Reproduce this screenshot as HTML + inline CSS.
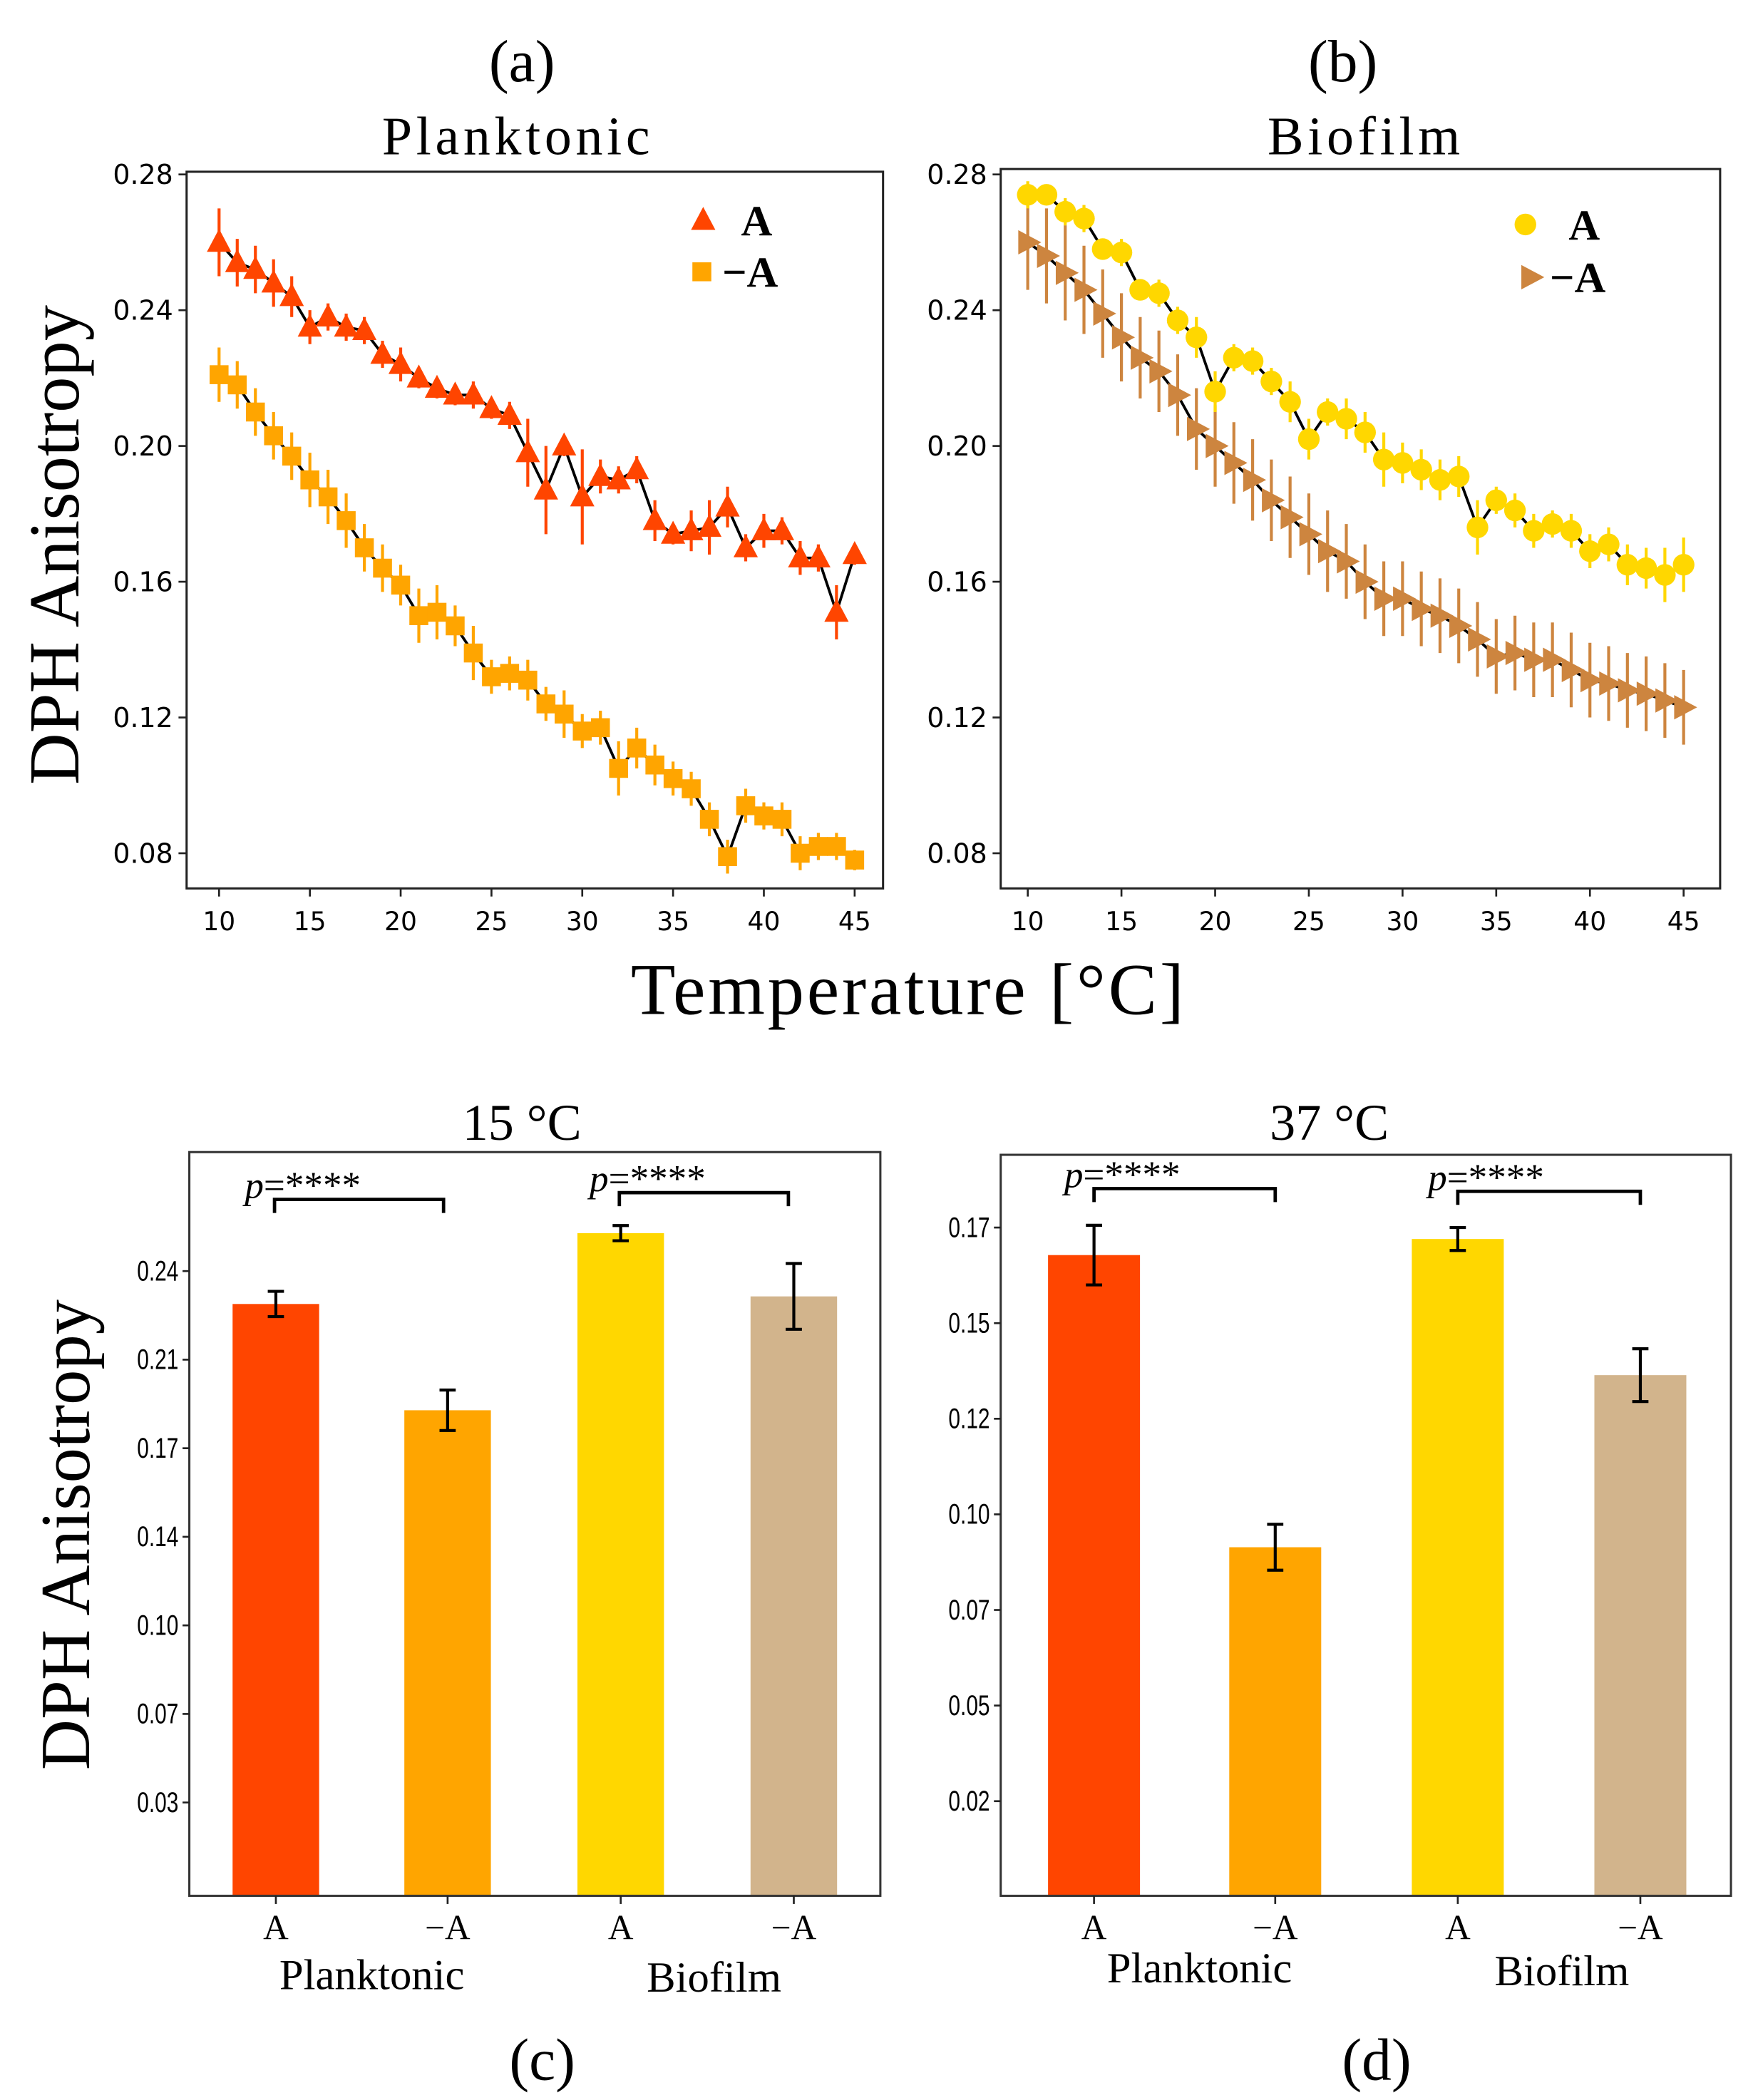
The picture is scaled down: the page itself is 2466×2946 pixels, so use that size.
<!DOCTYPE html>
<html><head><meta charset="utf-8"><style>
html,body{margin:0;padding:0;background:#fff;}
svg{display:block;}
</style></head><body>
<svg id="fig" width="2466" height="2946" viewBox="0 0 1300 1553" preserveAspectRatio="none" xmlns="http://www.w3.org/2000/svg">
<rect x="0" y="0" width="1300" height="1553" fill="#fff"/>
<g font-family="Liberation Serif, serif" fill="#000">
<text x="386" y="60" font-size="44" text-anchor="middle">(a)</text>
<text x="993" y="60" font-size="44" text-anchor="middle">(b)</text>
<text x="383" y="114" font-size="40" text-anchor="middle" letter-spacing="3">Planktonic</text>
<text x="1010" y="114" font-size="40" text-anchor="middle" letter-spacing="3">Biofilm</text>
<text x="672" y="750" font-size="54" text-anchor="middle" letter-spacing="2">Temperature [°C]</text>
<text transform="translate(58,403) rotate(-90)" font-size="53" text-anchor="middle">DPH Anisotropy</text>
<text transform="translate(66,1135) rotate(-90)" font-size="52" text-anchor="middle">DPH Anisotropy</text>
<text x="386" y="843" font-size="38" text-anchor="middle">15 °C</text>
<text x="983" y="843" font-size="38" text-anchor="middle">37 °C</text>
<text x="401" y="1538" font-size="44" text-anchor="middle">(c)</text>
<text x="1018" y="1538" font-size="44" text-anchor="middle">(d)</text>
<text x="275" y="1471" font-size="32" text-anchor="middle">Planktonic</text>
<text x="528" y="1473" font-size="32" text-anchor="middle">Biofilm</text>
<text x="887" y="1466" font-size="32" text-anchor="middle">Planktonic</text>
<text x="1155" y="1468" font-size="32" text-anchor="middle">Biofilm</text>
</g>
<g id="plots"></g>
</svg>
<script>
// ---- line chart data ----
const temps = [10,11,12,13,14,15,16,17,18,19,20,21,22,23,24,25,26,27,28,29,30,31,32,33,34,35,36,37,38,39,40,41,42,43,44,45];
const plankA = [0.260,0.254,0.252,0.248,0.244,0.235,0.238,0.235,0.234,0.227,0.224,0.220,0.217,0.215,0.215,0.211,0.209,0.198,0.187,0.200,0.185,0.191,0.190,0.193,0.178,0.174,0.175,0.176,0.182,0.170,0.175,0.175,0.167,0.167,0.151,0.168];
const plankAErr = [0.010,0.007,0.007,0.007,0.006,0.005,0.004,0.004,0.004,0.004,0.005,0.003,0.003,0.003,0.004,0.003,0.004,0.010,0.013,0.003,0.014,0.005,0.004,0.004,0.006,0.003,0.006,0.008,0.006,0.004,0.005,0.004,0.005,0.004,0.008,0.003];
const plankNA = [0.221,0.218,0.210,0.203,0.197,0.190,0.185,0.178,0.170,0.164,0.159,0.150,0.151,0.147,0.139,0.132,0.133,0.131,0.124,0.121,0.116,0.117,0.105,0.111,0.106,0.102,0.099,0.090,0.079,0.094,0.091,0.090,0.080,0.082,0.082,0.078];
const plankNAErr = [0.008,0.007,0.007,0.007,0.007,0.008,0.008,0.008,0.007,0.007,0.006,0.008,0.008,0.006,0.008,0.005,0.005,0.006,0.005,0.007,0.005,0.005,0.008,0.006,0.006,0.005,0.005,0.005,0.005,0.005,0.004,0.005,0.005,0.004,0.004,0.003];
const bioA = [0.274,0.274,0.269,0.267,0.258,0.257,0.246,0.245,0.237,0.232,0.216,0.226,0.225,0.219,0.213,0.202,0.210,0.208,0.204,0.196,0.195,0.193,0.190,0.191,0.176,0.184,0.181,0.175,0.177,0.175,0.169,0.171,0.165,0.164,0.162,0.165];
const bioAErr = [0.004,0.003,0.004,0.004,0.003,0.004,0.003,0.004,0.004,0.006,0.006,0.004,0.004,0.004,0.006,0.006,0.004,0.006,0.006,0.008,0.006,0.006,0.006,0.006,0.008,0.004,0.005,0.005,0.004,0.005,0.005,0.005,0.006,0.006,0.008,0.008];
const bioNA = [0.260,0.256,0.251,0.246,0.239,0.232,0.226,0.222,0.215,0.205,0.200,0.195,0.190,0.184,0.179,0.174,0.169,0.166,0.160,0.155,0.155,0.152,0.150,0.147,0.143,0.138,0.139,0.137,0.137,0.134,0.131,0.130,0.128,0.127,0.125,0.123];
const bioNAErr = [0.014,0.014,0.014,0.013,0.013,0.013,0.012,0.012,0.012,0.012,0.012,0.012,0.012,0.012,0.012,0.012,0.012,0.011,0.011,0.011,0.011,0.011,0.011,0.011,0.011,0.011,0.011,0.011,0.011,0.011,0.011,0.011,0.011,0.011,0.011,0.011];
const lineYTicks = [0.08,0.12,0.16,0.20,0.24,0.28];
const lineYLabels = ["0.08","0.12","0.16","0.20","0.24","0.28"];
const lineXTicks = [10,15,20,25,30,35,40,45];
// ---- bar chart data ----
const barCats = ["A","\u2212A","A","\u2212A"];
const bar15 = [0.232,0.190,0.260,0.235];
const bar15Err = [0.005,0.008,0.003,0.013];
const bar37 = [0.1678,0.0914,0.172,0.1364];
const bar37Err = [0.0078,0.006,0.003,0.0069];
const bar15Ticks = [0.035,0.070,0.105,0.140,0.175,0.210,0.245];
const bar15Labels = ["0.03","0.07","0.10","0.14","0.17","0.21","0.24"];
const bar37Ticks = [0.025,0.050,0.075,0.100,0.125,0.150,0.175];
const bar37Labels = ["0.02","0.05","0.07","0.10","0.12","0.15","0.17"];
const barColors = ["#ff4500","#ffa500","#ffd700","#d2b48c"];

const NS = "http://www.w3.org/2000/svg";
const root = document.getElementById('plots');
function mk(tag, attrs, parent){const e=document.createElementNS(NS,tag);for(const k in attrs)e.setAttribute(k,attrs[k]);(parent||root).appendChild(e);return e;}

function lin(d0,d1,r0,r1){return v=>r0+(v-d0)/(d1-d0)*(r1-r0);}

function linePanel(id, box, xs, ys, series){
  const g = mk('g',{});
  
  
  const fr = mk('rect',{x:box.x0,y:box.y0,width:box.x1-box.x0,height:box.y1-box.y0,fill:'none',stroke:'#222','stroke-width':1.6},g);
  
  
  lineYTicks.forEach((t,i)=>{
    const y=ys(t);
    mk('line',{x1:box.x0-6,x2:box.x0,y1:y,y2:y,stroke:'#222','stroke-width':1.4},g);
    const tx=mk('text',{x:box.x0-10,y:y+7,'font-size':20,'text-anchor':'end','font-family':'DejaVu Sans, sans-serif'},g);
    tx.textContent=lineYLabels[i];
    
    
  });
  lineXTicks.forEach(t=>{
    const x=xs(t);
    mk('line',{x1:x,x2:x,y1:box.y1,y2:box.y1+6,stroke:'#222','stroke-width':1.4},g);
    const tx=mk('text',{x:x,y:box.y1+31,'font-size':19,'text-anchor':'middle','font-family':'DejaVu Sans, sans-serif'},g);
    tx.textContent=String(t);
    
    
  });
  series.forEach(s=>{
    const sg=mk('g',{},g);
    
    
    let d='';
    temps.forEach((t,i)=>{d+=(i?'L':'M')+xs(t)+' '+ys(s.v[i]);});
    mk('path',{d:d,fill:'none',stroke:'#000','stroke-width':2},sg);
    temps.forEach((t,i)=>{
      const x=xs(t),y=ys(s.v[i]);
      mk('line',{x1:x,x2:x,y1:ys(s.v[i]+s.e[i]),y2:ys(s.v[i]-s.e[i]),stroke:s.c,'stroke-width':2.2},sg);
      drawMarker(sg,s.m,x,y,s.c);
    });
  });
  return g;
}
function drawMarker(g,m,x,y,c){
  let el;
  if(m==='tri') el=mk('polygon',{points:`${x},${y-10} ${x-9},${y+7} ${x+9},${y+7}`,fill:c},g);
  else if(m==='sq') el=mk('rect',{x:x-7,y:y-7,width:14,height:14,fill:c},g);
  else if(m==='circ') el=mk('circle',{cx:x,cy:y,r:8,fill:c},g);
  else el=mk('polygon',{points:`${x+10},${y} ${x-7},${y-9} ${x-7},${y+9}`,fill:c},g);
  
  
}

// panel a
const boxA={x0:138,x1:653,y0:127,y1:657};
const xsA=lin(10,45,162,632), ysA=lin(0.08,0.28,631,129);
linePanel('plot-planktonic',boxA,xsA,ysA,[
  {name:'series-a-planktonic',v:plankA,e:plankAErr,c:'#ff4500',m:'tri'},
  {name:'series-minus-a-planktonic',v:plankNA,e:plankNAErr,c:'#ffa500',m:'sq'}]);
// panel b
const boxB={x0:740,x1:1272,y0:125,y1:657};
const xsB=lin(10,45,760,1245), ysB=lin(0.08,0.28,631,129);
linePanel('plot-biofilm',boxB,xsB,ysB,[
  {name:'series-minus-a-biofilm',v:bioNA,e:bioNAErr,c:'#cd853f',m:'rtri'},
  {name:'series-a-biofilm',v:bioA,e:bioAErr,c:'#ffd700',m:'circ'}]);

// legends
function legend(items){
  items.forEach(it=>{
    drawMarker(root,it.m,it.x,it.y,it.c);
    const t=mk('text',{x:it.tx,y:it.y+11,'font-size':32,'font-weight':'bold','font-family':'Liberation Serif, serif'});
    t.textContent=it.label;
    
    
  });
}
legend([{m:'tri',x:520,y:163,c:'#ff4500',tx:548,label:'A'},{m:'sq',x:519,y:201,c:'#ffa500',tx:534,label:'\u2212A'}]);
legend([{m:'circ',x:1128,y:166,c:'#ffd700',tx:1160,label:'A'},{m:'rtri',x:1132,y:205,c:'#cd853f',tx:1146,label:'\u2212A'}]);

function barPanel(id, box, ys, vals, errs, ticks, labels, centers, bw, brackets){
  const g=mk('g',{});
  
  
  vals.forEach((v,i)=>{
    const r=mk('rect',{x:centers[i]-bw/2,y:ys(v),width:bw,height:box.y1-ys(v),fill:barColors[i]},g);
    
    
    const x=centers[i], y0=ys(v+errs[i]), y1=ys(v-errs[i]);
    mk('path',{d:`M${x} ${y0}V${y1}M${x-6} ${y0}H${x+6}M${x-6} ${y1}H${x+6}`,stroke:'#000','stroke-width':2.2,fill:'none'},g);
  });
  const fr=mk('rect',{x:box.x0,y:box.y0,width:box.x1-box.x0,height:box.y1-box.y0,fill:'none',stroke:'#333','stroke-width':1.6},g);
  
  
  ticks.forEach((t,i)=>{
    const y=ys(t);
    mk('line',{x1:box.x0-5,x2:box.x0,y1:y,y2:y,stroke:'#222','stroke-width':1.4},g);
    const tx=mk('text',{x:box.x0-8,y:y+7,'font-size':21,'text-anchor':'end','font-family':'Liberation Sans Narrow, Liberation Sans, sans-serif',transform:`translate(${box.x0-8},0) scale(0.75,1) translate(${-(box.x0-8)},0)`},g);
    tx.textContent=labels[i];
    
    
  });
  barCats.forEach((c,i)=>{
    const x=centers[i];
    mk('line',{x1:x,x2:x,y1:box.y1,y2:box.y1+6,stroke:'#222','stroke-width':1.4},g);
    const tx=mk('text',{x:x,y:box.y1+32,'font-size':26,'text-anchor':'middle','font-family':'Liberation Serif, serif'},g);
    tx.textContent=c;
    
    
  });
  brackets.forEach(b=>{
    mk('path',{d:`M${b.x0} ${b.y+10}V${b.y}H${b.x1}V${b.y+10}`,stroke:'#000','stroke-width':2.5,fill:'none'},g);
    const tx=mk('text',{x:b.x0-22,y:b.y-1,'font-size':28,'font-family':'Liberation Serif, serif'},g);
    tx.innerHTML='<tspan font-style="italic">p</tspan>=****';
    
    
  });
}
const boxC={x0:140,x1:651,y0:852,y1:1402};
barPanel('bar-chart-15c',boxC,lin(0,0.035,1398.5,1333),bar15,bar15Err,bar15Ticks,bar15Labels,[204,331,459,587],64,
  [{x0:203,x1:328,y:887},{x0:458,x1:583,y:882}]);
const boxD={x0:740,x1:1280,y0:854,y1:1402};
barPanel('bar-chart-37c',boxD,lin(0,0.025,1402.7,1332),bar37,bar37Err,bar37Ticks,bar37Labels,[809,943,1078,1213],68,
  [{x0:809,x1:943,y:879},{x0:1078,x1:1213,y:881}]);
</script>
</body></html>
